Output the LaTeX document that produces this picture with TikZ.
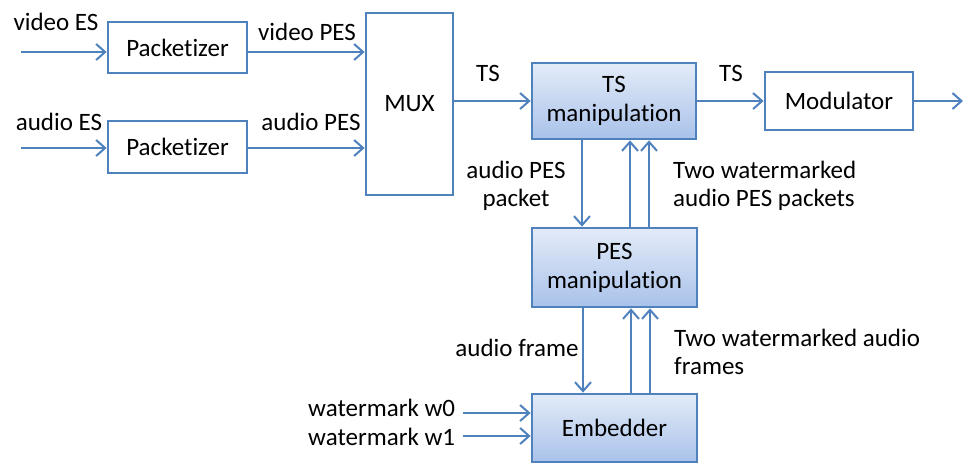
\documentclass[tikz,border=0pt]{standalone}
\usepackage{fontspec}
\setmainfont{Carlito}[Ligatures={NoCommon}]
\usetikzlibrary{arrows.meta}
\definecolor{edge}{HTML}{4F81BD}
\definecolor{topblue}{HTML}{E3EBF8}
\definecolor{botblue}{HTML}{A9C2EA}
\tikzset{
  flow/.style={draw=edge, line width=2.1pt, -{Straight Barb[length=9pt,width=16pt,line width=2pt]}},
  plainbox/.style={draw=edge, line width=2.8pt, fill=white, inner sep=0pt},
  shadedbox/.style={draw=edge, line width=2.8pt, top color=topblue, bottom color=botblue, inner sep=0pt},
  lbl/.style={font=\fontsize{25}{29}\selectfont, inner sep=0pt, align=center},
  lbll/.style={font=\fontsize{25}{28}\selectfont, inner sep=0pt, align=left}
}
\begin{document}
\begin{tikzpicture}[x=1pt,y=-1pt]
\useasboundingbox (0,0) rectangle (964,464);
\fill[white] (0,0) rectangle (964,464);

% boxes
\node[plainbox, minimum width=139pt, minimum height=51pt] (pk1) at (177.5,47.5) {};
\node[lbl] at (pk1) {Packetizer};
\node[plainbox, minimum width=139pt, minimum height=52pt] (pk2) at (177.5,147) {};
\node[lbl] at (pk2) {Packetizer};
\node[plainbox, minimum width=87pt, minimum height=182pt] (mux) at (409.5,104) {};
\node[lbl] at (mux) {MUX};
\node[shadedbox, minimum width=164pt, minimum height=76pt] (tsm) at (614,101) {};
\node[lbl] at (tsm) {TS\\manipulation};
\node[plainbox, minimum width=148pt, minimum height=58pt] (mod) at (839,101) {};
\node[lbl] at (mod) {Modulator};
\node[shadedbox, minimum width=165pt, minimum height=79pt] (pesm) at (614.5,267.5) {};
\node[lbl] at (pesm) {PES\\manipulation};
\node[shadedbox, minimum width=165pt, minimum height=68pt] (emb) at (614.5,428) {};
\node[lbl] at (emb) {Embedder};

% free ends of the connectors
\coordinate (vin) at (21,52);
\coordinate (ain) at (21,148);
\coordinate (out) at (963,101);
\coordinate (w0in) at (463,413);
\coordinate (w1in) at (463,436);

% connectors
\draw[flow] (vin) -- (vin -| pk1.west);
\draw[flow] (ain) -- (ain -| pk2.west);
\draw[flow] (pk1.east |- vin) -- (vin -| mux.west);
\draw[flow] (pk2.east |- ain) -- (ain -| mux.west);
\draw[flow] (mux.east |- tsm.west) -- (tsm.west);
\draw[flow] (tsm.east) -- (mod.west);
\draw[flow] (mod.east) -- (out);
\draw[flow] (tsm.south -| 582,0) -- (pesm.north -| 582,0);
\draw[flow] (pesm.north -| 630,0) -- (tsm.south -| 630,0);
\draw[flow] (pesm.north -| 649,0) -- (tsm.south -| 649,0);
\draw[flow] (pesm.south -| 583,0) -- (emb.north -| 583,0);
\draw[flow] (emb.north -| 631,0) -- (pesm.south -| 631,0);
\draw[flow] (emb.north -| 650,0) -- (pesm.south -| 650,0);
\draw[flow] (w0in) -- (w0in -| emb.west);
\draw[flow] (w1in) -- (w1in -| emb.west);

% labels
\node[lbl] (l1) at (56,22) {video ES};
\node[lbl] (l2) at (59,122) {audio ES};
\node[lbl] (l3) at (307,32) {video PES};
\node[lbl] (l4) at (311,122) {audio PES};
\node[lbl] (l5) at (488,73) {TS};
\node[lbl] (l6) at (731,73) {TS};
\node[lbll, align=center] (l7) at (516,186) {audio PES\\packet};
\node[lbll, anchor=west] (l8) at (673,186) {Two watermarked\\audio PES packets};
\node[lbl] (l9) at (517,348) {audio frame};
\node[lbll, anchor=west] (l10) at (674,352) {Two watermarked audio\\frames};
\node[lbll, anchor=west] (l11) at (308,408) {watermark w0};
\node[lbll, anchor=west] (l12) at (308,437) {watermark w1};
\end{tikzpicture}
\end{document}
